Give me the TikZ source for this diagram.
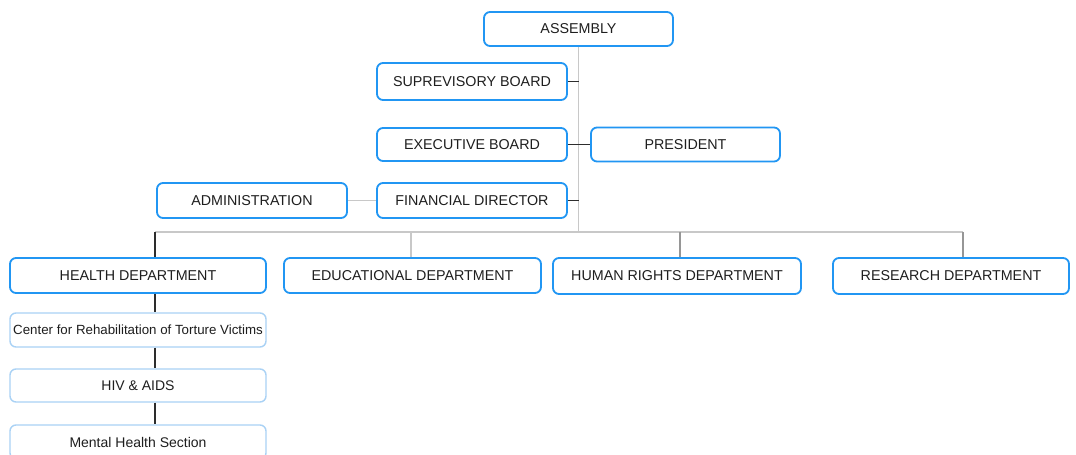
\documentclass[tikz,border=0pt]{standalone}
\usepackage{fontspec}
\setmainfont{Liberation Sans}
\definecolor{boxblue}{RGB}{33,150,243}
\definecolor{lightblue}{RGB}{170,210,245}
\definecolor{darkline}{RGB}{45,45,45}
\definecolor{grayline}{RGB}{200,200,200}
\definecolor{midgray}{RGB}{150,150,150}
\definecolor{txt}{RGB}{30,30,30}
\tikzset{
  orgbox/.style={draw=boxblue, line width=1.8pt, rounded corners=6pt, fill=white,
    inner sep=0pt, text=txt, font=\fontsize{14.3}{16}\selectfont},
  subbox/.style={orgbox, draw=lightblue, line width=1.4pt, font=\fontsize{14}{16}\selectfont},
  darkc/.style={draw=darkline, line width=1.4pt},
  lightc/.style={draw=grayline, line width=1.2pt},
  midc/.style={draw=midgray, line width=1.2pt}
}
\begin{document}
\begin{tikzpicture}[x=1pt,y=-1pt]
\useasboundingbox[fill=white] (0,0) rectangle (1076,455);
\node[orgbox, minimum width=189pt, minimum height=34pt] (assembly) at (578.5,29) {ASSEMBLY};
\node[orgbox, minimum width=190pt, minimum height=37pt] (superv) at (472,81.5) {SUPREVISORY BOARD};
\node[orgbox, minimum width=190pt, minimum height=33pt] (exec) at (472,144.5) {EXECUTIVE BOARD};
\node[orgbox, minimum width=189pt, minimum height=34pt] (pres) at (685.5,144.5) {PRESIDENT};
\node[orgbox, minimum width=190pt, minimum height=35pt] (fin) at (472,200.5) {FINANCIAL DIRECTOR};
\node[orgbox, minimum width=190pt, minimum height=35pt] (admin) at (252,200.5) {ADMINISTRATION};
\node[orgbox, minimum width=256pt, minimum height=35pt] (health) at (138,275.5) {HEALTH DEPARTMENT};
\node[orgbox, minimum width=257pt, minimum height=35pt] (edu) at (412.5,275.5) {EDUCATIONAL DEPARTMENT};
\node[orgbox, minimum width=248pt, minimum height=36pt] (hr) at (677,276) {HUMAN RIGHTS DEPARTMENT};
\node[orgbox, minimum width=236pt, minimum height=36pt] (res) at (951,276) {RESEARCH DEPARTMENT};
\node[subbox, minimum width=256pt, minimum height=34pt, font=\fontsize{13.3}{15}\selectfont] (crt) at (138,330) {Center for Rehabilitation of Torture Victims};
\node[subbox, minimum width=256pt, minimum height=33pt] (hiv) at (138,385.5) {HIV \& AIDS};
\node[subbox, minimum width=256pt, minimum height=34pt] (mental) at (138,442) {Mental Health Section};

\coordinate (trunk) at (578.5,232);
\coordinate (b1) at (155,232);
\coordinate (b2) at (411,232);
\coordinate (b3) at (680,232);
\coordinate (b4) at (963,232);

\draw[lightc] (assembly.south) -- (trunk);
\draw[lightc] (b1) -- (b4);
\draw[darkc] (superv.east) -- (superv.east -| trunk);
\draw[darkc] (exec.east) -- (pres.west);
\draw[darkc] (fin.east) -- (fin.east -| trunk);
\draw[lightc] (admin.east) -- (fin.west);
\draw[darkc] (b1) -- (b1 |- health.north);
\draw[lightc] (b2) -- (b2 |- edu.north);
\draw[midc] (b3) -- (b3 |- hr.north);
\draw[midc] (b4) -- (b4 |- res.north);
\draw[darkc] (b1 |- health.south) -- (b1 |- crt.north);
\draw[darkc] (b1 |- crt.south) -- (b1 |- hiv.north);
\draw[darkc] (b1 |- hiv.south) -- (b1 |- mental.north);
\end{tikzpicture}
\end{document}
